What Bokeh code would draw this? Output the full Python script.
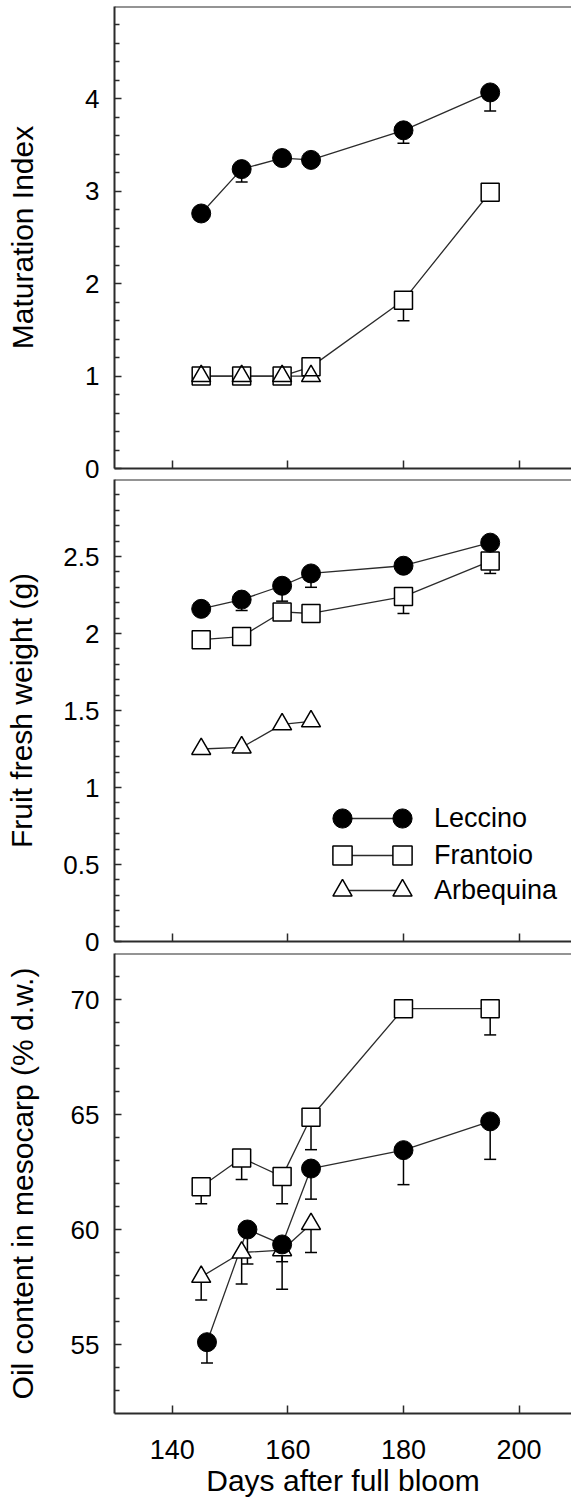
import numpy as np
from bokeh.plotting import figure
from bokeh.models import (Range1d, FixedTicker, ColumnDataSource, Whisker, TeeHead,
                          Span, Legend, LegendItem)
from bokeh.layouts import column
from bokeh.embed import file_html
from bokeh.resources import INLINE

FONT = "Liberation Sans"
INK = "#2b2b2b"

# ---------------- data ----------------
days = [145, 152, 159, 164, 180, 195]
days_arbequina = [145, 152, 159, 164]
days_oil_leccino = [146, 153, 159, 164, 180, 195]

x_ticks = [140, 160, 180, 200]

# Panel 1: maturation index
mi_leccino = [2.76, 3.24, 3.36, 3.34, 3.66, 4.07]
mi_leccino_se = [0.05, 0.14, 0.05, 0.05, 0.14, 0.20]
mi_frantoio = [1.0, 1.0, 1.0, 1.10, 1.82, 2.99]
mi_frantoio_se = [0.0, 0.0, 0.0, 0.0, 0.22, 0.05]
mi_arbequina = [1.0, 1.0, 1.0, 1.0]
mi_arbequina_se = [0.0, 0.0, 0.0, 0.0]
y1_ticks = [0, 1, 2, 3, 4]

# Panel 2: fruit fresh weight (g)
fw_leccino = [2.16, 2.22, 2.31, 2.39, 2.44, 2.59]
fw_leccino_se = [0.03, 0.07, 0.10, 0.09, 0.03, 0.13]
fw_frantoio = [1.96, 1.98, 2.14, 2.13, 2.24, 2.47]
fw_frantoio_se = [0.02, 0.02, 0.03, 0.02, 0.11, 0.08]
fw_arbequina = [1.25, 1.26, 1.41, 1.43]
fw_arbequina_se = [0.02, 0.02, 0.02, 0.02]
y2_ticks = [0, 0.5, 1, 1.5, 2, 2.5]
y2_labels = ["0", "0.5", "1", "1.5", "2", "2.5"]

# Panel 3: oil content in mesocarp (% d.w.)
oil_leccino = [55.1, 60.0, 59.35, 62.65, 63.45, 64.7]
oil_leccino_se = [0.9, 1.5, 1.95, 1.33, 1.5, 1.65]
oil_frantoio = [61.86, 63.11, 62.30, 64.88, 69.6, 69.6]
oil_frantoio_se = [0.74, 0.94, 1.18, 1.41, 0.3, 1.14]
oil_arbequina = [57.94, 59.0, 59.1, 60.24]
oil_arbequina_se = [1.0, 1.37, 0.5, 1.24]
y3_ticks = [55, 60, 65, 70]

cultivars = ["Leccino", "Frantoio", "Arbequina"]


def base_fig(height, y_start, y_end, border_top, border_bottom, ticks, minor, title,
             title_standoff, show_x_labels=False):
    p = figure(width=571, height=height, x_range=Range1d(130, 209.07),
               y_range=Range1d(y_start, y_end), output_backend="svg",
               toolbar_location=None, min_border_left=114, min_border_right=0,
               min_border_top=border_top, min_border_bottom=border_bottom)
    p.outline_line_color = None
    p.xgrid.visible = False
    p.ygrid.visible = False
    p.background_fill_color = "white"
    p.border_fill_color = "white"
    for ax in (p.xaxis[0], p.yaxis[0]):
        ax.axis_line_color = INK
        ax.axis_line_width = 2
        ax.major_tick_line_color = INK
        ax.major_tick_line_width = 1.5
        ax.minor_tick_line_color = INK
        ax.minor_tick_line_width = 1.5
        ax.major_tick_out = 0
        ax.minor_tick_out = 0
        ax.major_label_text_font = FONT
        ax.major_label_text_font_size = "26px"
        ax.major_label_text_color = "black"
        ax.axis_label_text_font = FONT
        ax.axis_label_text_font_size = "30px"
        ax.axis_label_text_font_style = "normal"
        ax.axis_label_text_color = "black"
    xa = p.xaxis[0]
    if show_x_labels:
        xa.ticker = FixedTicker(ticks=x_ticks, minor_ticks=[])
        xa.major_tick_in = 8
        xa.minor_tick_in = 0
        xa.major_label_text_font_size = "27px"
    else:
        # tick marks only (no labels): use the minor-tick slot
        xa.ticker = FixedTicker(ticks=[], minor_ticks=x_ticks)
        xa.minor_tick_in = 8
        xa.major_tick_in = 0
    ya = p.yaxis[0]
    ya.ticker = FixedTicker(ticks=ticks, minor_ticks=minor)
    ya.major_tick_in = 7
    ya.minor_tick_in = 5
    ya.major_label_standoff = 15
    ya.axis_label = title
    ya.axis_label_standoff = title_standoff
    p.add_layout(Span(location=y_end, dimension="width", line_color=INK, line_width=2))
    return p


def draw_panel(p, series):
    """series: list of (x, y, se, marker, size, filled)"""
    srcs = []
    lines = []
    for x, y, se, marker, size, filled in series:
        src = ColumnDataSource(dict(x=x, y=y, lo=[a - b for a, b in zip(y, se)]))
        p.add_layout(Whisker(source=src, base="x", upper="y", lower="lo",
                             dimension="height", line_color="black", line_width=1.5,
                             upper_head=None,
                             lower_head=TeeHead(size=12, line_color="black", line_width=1.5),
                             level="underlay"))
        lines.append(p.line("x", "y", source=src, line_color=INK, line_width=1.3))
        srcs.append(src)
    fills = {}
    for (x, y, se, marker, size, filled), src in zip(series, srcs):
        if not filled:
            fills[marker] = p.scatter("x", "y", source=src, marker=marker, size=size,
                                      fill_color="white", line_color=None)
    marks = []
    for (x, y, se, marker, size, filled), src in zip(series, srcs):
        if filled:
            r = p.scatter("x", "y", source=src, marker=marker, size=size,
                          fill_color="black", line_color="black", line_width=1)
            marks.append([r])
        else:
            r = p.scatter("x", "y", source=src, marker=marker, size=size,
                          fill_color=None, line_color="black", line_width=1.5)
            marks.append([fills[marker], r])
    return lines, marks


def panel_series(lec, lec_se, fra, fra_se, arb, arb_se, lec_days):
    return [
        (days_arbequina, arb, arb_se, "triangle", 19, False),
        (days, fra, fra_se, "square", 18, False),
        (lec_days, lec, lec_se, "circle", 19, True),
    ]


# Panel 1
p1 = base_fig(478, 0, 5, 6, 10, y1_ticks,
              [round(0.2 * i, 1) for i in range(1, 25) if i % 5],
              "Maturation Index", 43)
draw_panel(p1, panel_series(mi_leccino, mi_leccino_se, mi_frantoio, mi_frantoio_se,
                            mi_arbequina, mi_arbequina_se, days))

# Panel 2
p2 = base_fig(474, 0, 3, 1, 11, y2_ticks,
              [round(0.1 * i, 1) for i in range(1, 30) if i % 5],
              "Fruit fresh weight (g)", 22)
p2.yaxis[0].major_label_overrides = {str(t): l for t, l in zip(y2_ticks, y2_labels)}
lines2, marks2 = draw_panel(p2, panel_series(fw_leccino, fw_leccino_se, fw_frantoio,
                                             fw_frantoio_se, fw_arbequina, fw_arbequina_se,
                                             days))

# legend rows (Leccino, Frantoio, Arbequina): marker - line - marker, then the name
order = [2, 1, 0]
line_row_offsets = [105, 68, 33]
mark_row_offsets = [99, 62, 27]
leg_style = dict(padding=0, margin=0, spacing=0, border_line_color=None,
                 background_fill_alpha=0, label_text_font=FONT,
                 label_text_font_size="27px", label_text_color="black")
for k, i in enumerate(order):
    name = cultivars[k]
    p2.add_layout(Legend(items=[LegendItem(label=name, renderers=[lines2[i]])],
                         location=(228, line_row_offsets[k]), glyph_width=60,
                         glyph_height=36, label_standoff=32, **leg_style))
    p2.add_layout(Legend(items=[LegendItem(label=name, renderers=marks2[i])],
                         location=(204, mark_row_offsets[k]), glyph_width=48,
                         glyph_height=48, label_standoff=68, label_text_alpha=0,
                         **{k2: v for k2, v in leg_style.items()}))
    p2.add_layout(Legend(items=[LegendItem(label=name, renderers=marks2[i])],
                         location=(264, mark_row_offsets[k]), glyph_width=48,
                         glyph_height=48, label_standoff=8, label_text_alpha=0,
                         **{k2: v for k2, v in leg_style.items()}))

# Panel 3
p3 = base_fig(553, 52, 72, 1, 92, y3_ticks,
              [v for v in range(53, 72) if v % 5],
              "Oil content in mesocarp (% d.w.)", 29, show_x_labels=True)
p3.xaxis[0].axis_label = "Days after full bloom"
p3.xaxis[0].major_label_standoff = 26
p3.xaxis[0].axis_label_standoff = 2
draw_panel(p3, panel_series(oil_leccino, oil_leccino_se, oil_frantoio, oil_frantoio_se,
                            oil_arbequina, oil_arbequina_se, days_oil_leccino))

layout = column(p1, p2, p3, spacing=0)
open("out.html", "w").write(file_html(layout, INLINE))
